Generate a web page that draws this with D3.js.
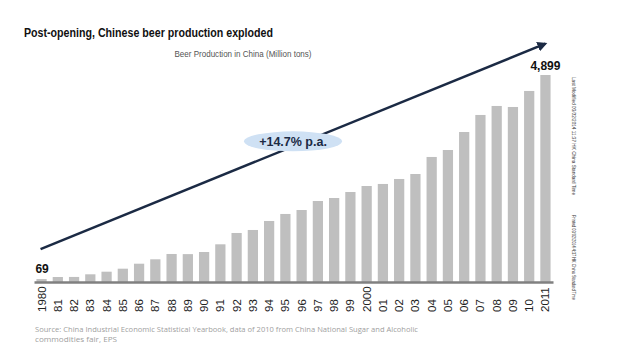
<!DOCTYPE html>
<html>
<head>
<meta charset="utf-8">
<script src="https://cdn.jsdelivr.net/npm/d3@7"></script>
<style>
  body { margin: 0; background: #fff; }
  svg { display: block; font-family: "Liberation Sans", Arial, sans-serif; }
</style>
</head>
<body>
<svg id="chart" width="619" height="353"></svg>
<script>
// beer production
let years = ["1980", "81", "82", "83", "84", "85", "86", "87", "88", "89", "90", "91",
    "92", "93", "94", "95", "96", "97", "98", "99", "2000", "01", "02", "03",
    "04", "05", "06", "07", "08", "09", "10", "2011"];
let production = [69, 118, 120, 182, 244, 315, 433, 537, 663, 660, 710, 892,
    1160, 1231, 1444, 1610, 1704, 1917, 1988, 2130, 2272, 2320, 2438, 2556,
    2959, 3124, 3550, 3953, 4166, 4142, 4521, 4899];
// trend arrow, first and last year
let trendYears = ["1980", "2011"];
let trendValues = [780, 5640];
let growthLabel = "+14.7% p.a.";

let svg = d3.select("#chart");
let baseY = 282;

let x = d3.scaleBand()
    .domain(years)
    .range([34, 553])
    .paddingInner(0.37)
    .paddingOuter(0.15);

let y = d3.scaleLinear()
    .domain([0, 4899])
    .range([baseY, 75]);

// title
svg.append("text")
    .attr("x", 24)
    .attr("y", 37)
    .attr("font-size", 12)
    .attr("font-weight", "bold")
    .attr("fill", "#111")
    .attr("textLength", 249)
    .attr("lengthAdjust", "spacingAndGlyphs")
    .text("Post-opening, Chinese beer production exploded");

svg.append("text")
    .attr("x", 243)
    .attr("y", 57)
    .attr("text-anchor", "middle")
    .attr("font-size", 9)
    .attr("fill", "#555")
    .attr("textLength", 137)
    .attr("lengthAdjust", "spacingAndGlyphs")
    .text("Beer Production in China (Million tons)");

// bars
svg.selectAll(".bar")
    .data(production)
    .enter()
    .append("rect")
    .attr("class", "bar")
    .attr("x", (d, i) => x(years[i]))
    .attr("y", d => y(d))
    .attr("width", x.bandwidth())
    .attr("height", d => baseY - y(d))
    .attr("fill", "#bfbfbf");

// axis
let axis = svg.append("g")
    .attr("transform", "translate(0," + baseY + ")")
    .call(d3.axisBottom(x).tickSize(0).tickPadding(0));
axis.select(".domain").attr("stroke", "#808080").attr("stroke-width", 2.5);
axis.selectAll(".tick text")
    .attr("transform", "translate(4,30) rotate(-90)")
    .attr("text-anchor", "start")
    .attr("dy", 0)
    .attr("y", 0)
    .attr("font-size", 11.5)
    .attr("font-family", "'Liberation Sans', Arial, sans-serif")
    .attr("fill", "#222");

// first and last value labels
let fmt = d3.format(",");
svg.append("text")
    .attr("x", x(years[0]) - 1)
    .attr("y", y(production[0]) - 6)
    .attr("font-size", 12)
    .attr("font-weight", "bold")
    .attr("fill", "#111")
    .text(fmt(production[0]));

let last = production.length - 1;
svg.append("text")
    .attr("x", x(years[last]) + x.bandwidth() / 2)
    .attr("y", y(production[last]) - 5)
    .attr("text-anchor", "middle")
    .attr("font-size", 12)
    .attr("font-weight", "bold")
    .attr("fill", "#111")
    .text(fmt(production[last]));

// trend arrow
svg.append("defs").append("marker")
    .attr("id", "arrow")
    .attr("viewBox", "0 -5 10 10")
    .attr("refX", 8)
    .attr("refY", 0)
    .attr("markerWidth", 4)
    .attr("markerHeight", 4)
    .attr("orient", "auto")
    .append("path")
    .attr("d", "M0,-5L10,0L0,5")
    .attr("fill", "#1b2a44");

let ax1 = x(trendYears[0]) + x.bandwidth() / 2 - 1;
let ay1 = y(trendValues[0]);
let ax2 = x(trendYears[1]) + x.bandwidth() / 2;
let ay2 = y(trendValues[1]);
svg.append("line")
    .attr("x1", ax1).attr("y1", ay1)
    .attr("x2", ax2).attr("y2", ay2)
    .attr("stroke", "#1b2a44")
    .attr("stroke-width", 2.5)
    .attr("marker-end", "url(#arrow)");

// growth bubble sits on the arrow
let bx = 293;
let by = ay1 + (ay2 - ay1) * (bx - ax1) / (ax2 - ax1) - 5;
svg.append("ellipse")
    .attr("cx", bx)
    .attr("cy", by)
    .attr("rx", 49)
    .attr("ry", 10)
    .attr("fill", "#cfe1f4");
svg.append("text")
    .attr("x", bx)
    .attr("y", by + 4.5)
    .attr("text-anchor", "middle")
    .attr("font-size", 12.5)
    .attr("font-weight", "bold")
    .attr("fill", "#1b2a44")
    .text(growthLabel);

// source
let source = svg.append("text")
    .attr("font-size", 8)
    .attr("fill", "#a0a0a0")
    .attr("font-family", "'Open Sans', sans-serif");
source.append("tspan")
    .attr("x", 35).attr("y", 332)
    .attr("textLength", 383)
    .attr("lengthAdjust", "spacingAndGlyphs")
    .text("Source: China Industrial Economic Statistical  Yearbook, data of 2010  from China National Sugar and Alcoholic");
source.append("tspan")
    .attr("x", 35).attr("y", 342)
    .attr("textLength", 82)
    .attr("lengthAdjust", "spacingAndGlyphs")
    .text("commodities fair, EPS");

// side notes
svg.append("text")
    .attr("transform", "translate(572,77) rotate(90)")
    .attr("font-size", 4.5)
    .attr("fill", "#333")
    .attr("textLength", 118)
    .attr("lengthAdjust", "spacingAndGlyphs")
    .text("Last Modified 03/02/2014 11:37 HK China Standard Time");
svg.append("text")
    .attr("transform", "translate(572,215) rotate(90)")
    .attr("font-size", 4.5)
    .attr("fill", "#333")
    .attr("textLength", 85)
    .attr("lengthAdjust", "spacingAndGlyphs")
    .text("Printed 03/02/2014 4:37 HK China Standard Time");
</script>
</body>
</html>
